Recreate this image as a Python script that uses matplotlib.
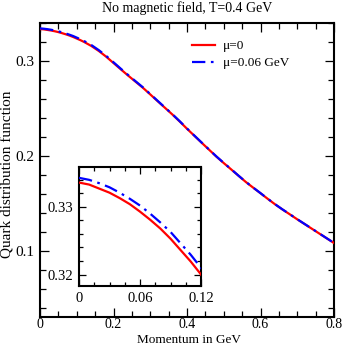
import matplotlib
matplotlib.use("Agg")
import matplotlib.pyplot as plt
from matplotlib.ticker import MultipleLocator, FixedLocator

plt.rcParams['font.family'] = ['Liberation Serif', 'DejaVu Serif']

# data (momentum in GeV, quark distribution function)
p = [0.00, 0.01, 0.02, 0.03, 0.04, 0.05, 0.06, 0.07, 0.08, 0.09, 0.10, 0.11, 0.12,
     0.14, 0.16, 0.18, 0.20, 0.22, 0.24, 0.26, 0.28, 0.30, 0.32, 0.34, 0.36, 0.38,
     0.40, 0.42, 0.44, 0.46, 0.48, 0.50, 0.52, 0.54, 0.56, 0.58, 0.60, 0.62, 0.64,
     0.66, 0.68, 0.70, 0.72, 0.74, 0.76, 0.78, 0.80]
f_mu0 = [0.3336, 0.3333, 0.3327, 0.3321, 0.3313, 0.3304, 0.3293, 0.3281, 0.3268, 0.3253,
         0.3236, 0.3219, 0.3200,
         0.3157, 0.3105, 0.3045, 0.2978, 0.2911, 0.2845, 0.2781, 0.2717, 0.2647, 0.2576,
         0.2506, 0.2436, 0.2362, 0.2285, 0.2211, 0.2137, 0.2064, 0.1991, 0.1923, 0.1857,
         0.1790, 0.1724, 0.1664, 0.1605, 0.1545, 0.1487, 0.1433, 0.1382, 0.1330, 0.1280,
         0.1230, 0.1180, 0.1130, 0.1080]
f_mu006 = [0.3343, 0.3340, 0.3335, 0.3329, 0.3321, 0.3312, 0.3302, 0.3290, 0.3277, 0.3263,
           0.3246, 0.3229, 0.3210,
           0.3167, 0.3114, 0.3053, 0.2986, 0.2918, 0.2851, 0.2786, 0.2722, 0.2651, 0.2580,
           0.2509, 0.2439, 0.2365, 0.2288, 0.2213, 0.2139, 0.2066, 0.1993, 0.1925, 0.1859,
           0.1791, 0.1725, 0.1665, 0.1606, 0.1546, 0.1488, 0.1434, 0.1383, 0.1331, 0.1281,
           0.1231, 0.1181, 0.1131, 0.1081]

title = "No magnetic field, T=0.4 GeV"
xlabel = "Momentum in GeV"
ylabel = "Quark distribution function"
labels = ["\u03bc=0", "\u03bc=0.06 GeV"]

W, H = 343, 348
fig = plt.figure(figsize=(W / 100, H / 100), dpi=100)
ax = fig.add_axes([40 / W, 1 - 317 / H, 294 / W, 294 / H])

dash = (0, (6, 2.5, 1.2, 2.5))
ax.plot(p, f_mu0, color='#ff0000', lw=1.6, label=labels[0], zorder=3)
ax.plot(p, f_mu006, color='#0000ff', lw=1.6, ls=dash, label=labels[1], zorder=4)

ax.set_xlim(0, 0.8)
ax.set_ylim(0.03, 0.34)
ax.xaxis.set_major_locator(FixedLocator([0, 0.2, 0.4, 0.6, 0.8]))
ax.xaxis.set_minor_locator(MultipleLocator(0.05))
ax.yaxis.set_major_locator(FixedLocator([0.1, 0.2, 0.3]))
ax.yaxis.set_minor_locator(MultipleLocator(0.02))
ax.set_xticklabels(['0', '0.2', '0.4', '0.6', '0.8'])
ax.set_yticklabels(['0.1', '0.2', '0.3'])


def style(a, fs):
    for s in a.spines.values():
        s.set_linewidth(1.5)
    a.tick_params(which='both', direction='in', top=True, right=True, labelsize=fs, width=0.9)
    a.tick_params(which='major', length=6.5, pad=4)
    a.tick_params(which='minor', length=4)


style(ax, 11)
ax.tick_params(axis='x', which='major', pad=1, labelsize=10)
ax.set_title(title, fontsize=10, pad=8)
fig.text(189 / W, 1 - 340 / H, xlabel, fontsize=9.5, ha='center', va='center')
fig.text(8 / W, 1 - 174 / H, ylabel, fontsize=11, ha='center', va='center', rotation=90)

leg = ax.legend(loc='upper left', bbox_to_anchor=(0.5, 0.96), frameon=False, fontsize=9.5,
                handlelength=1.7, handletextpad=0.6, labelspacing=0.35, borderaxespad=0)

# inset
axi = fig.add_axes([79 / W, 1 - 286 / H, 122 / W, 119 / H])
axi.plot(p, f_mu0, color='#ff0000', lw=1.6, zorder=3)
axi.plot(p, f_mu006, color='#0000ff', lw=1.6, ls=dash, zorder=4)
axi.set_xlim(0, 0.12)
axi.set_ylim(0.3183, 0.3359)
axi.xaxis.set_major_locator(FixedLocator([0, 0.06, 0.12]))
axi.xaxis.set_minor_locator(MultipleLocator(0.015))
axi.yaxis.set_major_locator(FixedLocator([0.32, 0.33]))
axi.yaxis.set_minor_locator(MultipleLocator(0.002))
axi.set_xticklabels(['0', '0.06', '0.12'])
axi.set_yticklabels(['0.32', '0.33'])
style(axi, 10.5)
axi.tick_params(which='major', length=5)
axi.tick_params(which='minor', length=3)

fig.savefig('out.png', dpi=100)
